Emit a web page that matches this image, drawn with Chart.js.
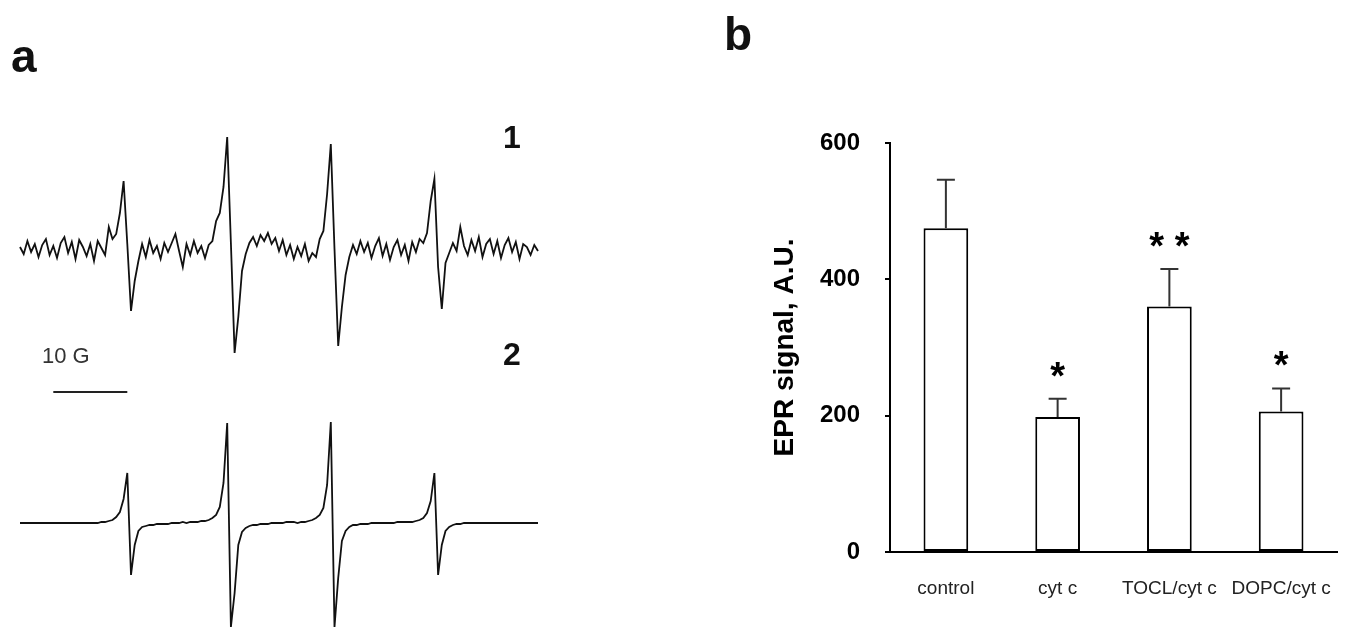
<!DOCTYPE html>
<html>
<head>
<meta charset="utf-8">
<script src="https://cdn.jsdelivr.net/npm/chart.js@4.4.0/dist/chart.umd.min.js"></script>
<style>
body { margin:0; background:#fff; width:1347px; height:627px; overflow:hidden; position:relative; font-family:"Liberation Sans", Arial, sans-serif; }
canvas { position:absolute; top:0; }
#spectra { left:0; }
#bars { left:560px; }
.lbl { position:absolute; font-weight:bold; color:#111; line-height:1; white-space:nowrap; }
</style>
</head>
<body>
<canvas id="spectra" width="560" height="627"></canvas>
<canvas id="bars" width="787" height="627"></canvas>
<div class="lbl" style="left:11px;top:33px;font-size:46px">a</div>
<div class="lbl" style="left:724px;top:11px;font-size:46px">b</div>
<div class="lbl" style="left:503px;top:121px;font-size:32px">1</div>
<div class="lbl" style="left:503px;top:338px;font-size:32px">2</div>
<div class="lbl" style="left:42px;top:345px;font-size:22px;font-weight:normal;color:#333">10 G</div>
<script>
// panel a: magnetic field, G
var field = [
  0, 0.5, 1, 1.5, 2, 2.5, 3, 3.5, 4, 4.5,
  5, 5.5, 6, 6.5, 7, 7.5, 8, 8.5, 9, 9.5,
  10, 10.5, 11, 11.5, 12, 12.5, 13, 13.5, 14, 14.5,
  15, 15.5, 16, 16.5, 17, 17.5, 18, 18.5, 19, 19.5,
  20, 20.5, 21, 21.5, 22, 22.5, 23, 23.5, 24, 24.5,
  25, 25.5, 26, 26.5, 27, 27.5, 28, 28.5, 29, 29.5,
  30, 30.5, 31, 31.5, 32, 32.5, 33, 33.5, 34, 34.5,
  35, 35.5, 36, 36.5, 37, 37.5, 38, 38.5, 39, 39.5,
  40, 40.5, 41, 41.5, 42, 42.5, 43, 43.5, 44, 44.5,
  45, 45.5, 46, 46.5, 47, 47.5, 48, 48.5, 49, 49.5,
  50, 50.5, 51, 51.5, 52, 52.5, 53, 53.5, 54, 54.5,
  55, 55.5, 56, 56.5, 57, 57.5, 58, 58.5, 59, 59.5,
  60, 60.5, 61, 61.5, 62, 62.5, 63, 63.5, 64, 64.5,
  65, 65.5, 66, 66.5, 67, 67.5, 68, 68.5, 69, 69.5,
  70
];
// trace 1, measured spectrum
var expSignal = [
  2, -5, 8, -3, 5, -8, 4, 10, -6, 3,
  -9, 6, 12, -4, 7, -10, 9, 2, -7, 5,
  -12, 8, 1, -6, 22, 10, 15, 36, 68, 5,
  -62, -32, -12, 5, -8, 9, -4, 3, -10, 6,
  -3, 6, 15, -2, -18, 5, -6, 8, -4, 3,
  -9, 4, 8, 28, 36, 62, 112, 6, -104, -68,
  -22, -5, 6, 12, 3, 14, 8, 16, 5, 11,
  -2, 9, -6, 4, -10, 2, -7, 5, -12, -4,
  -8, 10, 18, 55, 105, 0, -97, -58, -26, -8,
  4, -5, 8, -3, 6, -9, 3, 11, -7, 5,
  -11, 2, 9, -6, 4, -12, 7, -3, 10, 6,
  16, 48, 70, -18, -60, -14, -4, 6, -2, 22,
  3, -6, 9, -2, 12, -8, 5, 10, -5, 8,
  -9, 4, 11, -3, 7, -10, 5, 2, -6, 4,
  -2
];
// trace 2, simulated spectrum
var simSignal = [
  0, 0, 0, 0, 0, 0, 0, 0, 0, 0,
  0, 0, 0, 0, 0, 0, 0, 0, 0, 0,
  0, 0, 1, 1, 2, 3, 6, 11, 24, 50,
  -52, -22, -8, -4, -3, -2, -2, -1, -1, -1,
  -1, 0, 0, 0, 1, 0, 1, 1, 1, 2,
  2, 3, 5, 8, 16, 40, 100, -104, -70, -22,
  -9, -5, -3, -2, -2, -1, -1, -1, 0, 0,
  0, 0, 1, 1, 1, 0, 1, 1, 2, 3,
  5, 8, 15, 38, 101, -104, -55, -18, -8, -4,
  -2, -2, -1, -1, -1, 0, 0, 0, 0, 0,
  0, 0, 1, 1, 1, 1, 1, 2, 3, 5,
  10, 22, 50, -52, -22, -8, -4, -2, -1, -1,
  0, 0, 0, 0, 0, 0, 0, 0, 0, 0,
  0, 0, 0, 0, 0, 0, 0, 0, 0, 0,
  0
];
var scaleBar = [4.5, 14.5];
var scaleBarLevel = -143;

// panel b
var groups = ['control', 'cyt c', 'TOCL/cyt c', 'DOPC/cyt c'];
var epr = [475, 198, 360, 206];
var eprErr = [71, 27, 55, 34];
var stars = ['', '*', '**', '*'];
var yTicks = [0, 200, 400, 600];

new Chart(document.getElementById('spectra'), {
    type: 'line',
    data: {
        datasets: [{
            data: field.map((f, i) => ({x: f, y: expSignal[i]})),
            yAxisID: 'y1',
            borderColor: '#111',
            borderWidth: 1.8,
            pointRadius: 0,
            tension: 0,
            clip: false
        }, {
            data: field.map((f, i) => ({x: f, y: simSignal[i]})),
            yAxisID: 'y2',
            borderColor: '#111',
            borderWidth: 1.8,
            pointRadius: 0,
            tension: 0,
            clip: false
        }, {
            data: scaleBar.map(f => ({x: f, y: scaleBarLevel})),
            yAxisID: 'y1',
            borderColor: '#222',
            borderWidth: 2,
            pointRadius: 0
        }]
    },
    options: {
        responsive: false,
        animation: false,
        layout: {padding: 0},
        plugins: {legend: {display: false}, tooltip: {enabled: false}},
        scales: {
            x: {type: 'linear', display: false, min: -2.703, max: 72.973},
            y1: {display: false, min: -378, max: 249},
            y2: {display: false, min: -104, max: 523}
        }
    }
});

const errorBars = {
    id: 'errorBars',
    afterDatasetsDraw(chart) {
        const ctx = chart.ctx;
        const y = chart.scales.y;
        const meta = chart.getDatasetMeta(0);
        ctx.save();
        meta.data.forEach((bar, i) => {
            const top = y.getPixelForValue(epr[i] + eprErr[i]);
            ctx.strokeStyle = '#333';
            ctx.lineWidth = 2;
            ctx.beginPath();
            ctx.moveTo(bar.x, bar.y);
            ctx.lineTo(bar.x, top);
            ctx.moveTo(bar.x - 9, top);
            ctx.lineTo(bar.x + 9, top);
            ctx.stroke();
            if (stars[i]) {
                ctx.fillStyle = '#000';
                ctx.font = 'bold 38px "Liberation Sans"';
                ctx.textAlign = 'center';
                ctx.textBaseline = 'alphabetic';
                ctx.fillText(stars[i].split('').join(' '), bar.x, top - 10);
            }
        });
        ctx.restore();
    }
};

new Chart(document.getElementById('bars'), {
    type: 'bar',
    data: {
        labels: groups,
        datasets: [{
            data: epr,
            backgroundColor: '#fff',
            borderColor: '#000',
            borderWidth: 2,
            borderSkipped: false,
            barPercentage: 0.4,
            categoryPercentage: 1
        }]
    },
    options: {
        responsive: false,
        animation: false,
        layout: {padding: {left: 204, top: 143, right: 10, bottom: 0}},
        plugins: {legend: {display: false}, tooltip: {enabled: false}},
        scales: {
            x: {
                grid: {display: true, drawOnChartArea: false, drawTicks: true, tickLength: 22, color: 'rgba(0,0,0,0)'},
                border: {display: true, color: '#000', width: 2},
                ticks: {color: '#222', font: {family: 'Liberation Sans', size: 19}, padding: 3},
                afterFit: s => { s.height = 75; }
            },
            y: {
                min: 0,
                max: 600,
                afterBuildTicks: s => { s.ticks = yTicks.map(v => ({value: v})); },
                ticks: {color: '#000', font: {family: 'Liberation Sans', size: 24, weight: 'bold'}, padding: 25},
                grid: {drawOnChartArea: false, color: '#000', tickLength: 5, lineWidth: 2},
                border: {color: '#000', width: 2},
                title: {display: true, text: 'EPR signal, A.U.', color: '#000',
                    font: {family: 'Liberation Sans', size: 28, weight: 'bold'}},
                afterFit: s => { s.width = 126; }
            }
        }
    },
    plugins: [errorBars]
});
</script>
</body>
</html>
